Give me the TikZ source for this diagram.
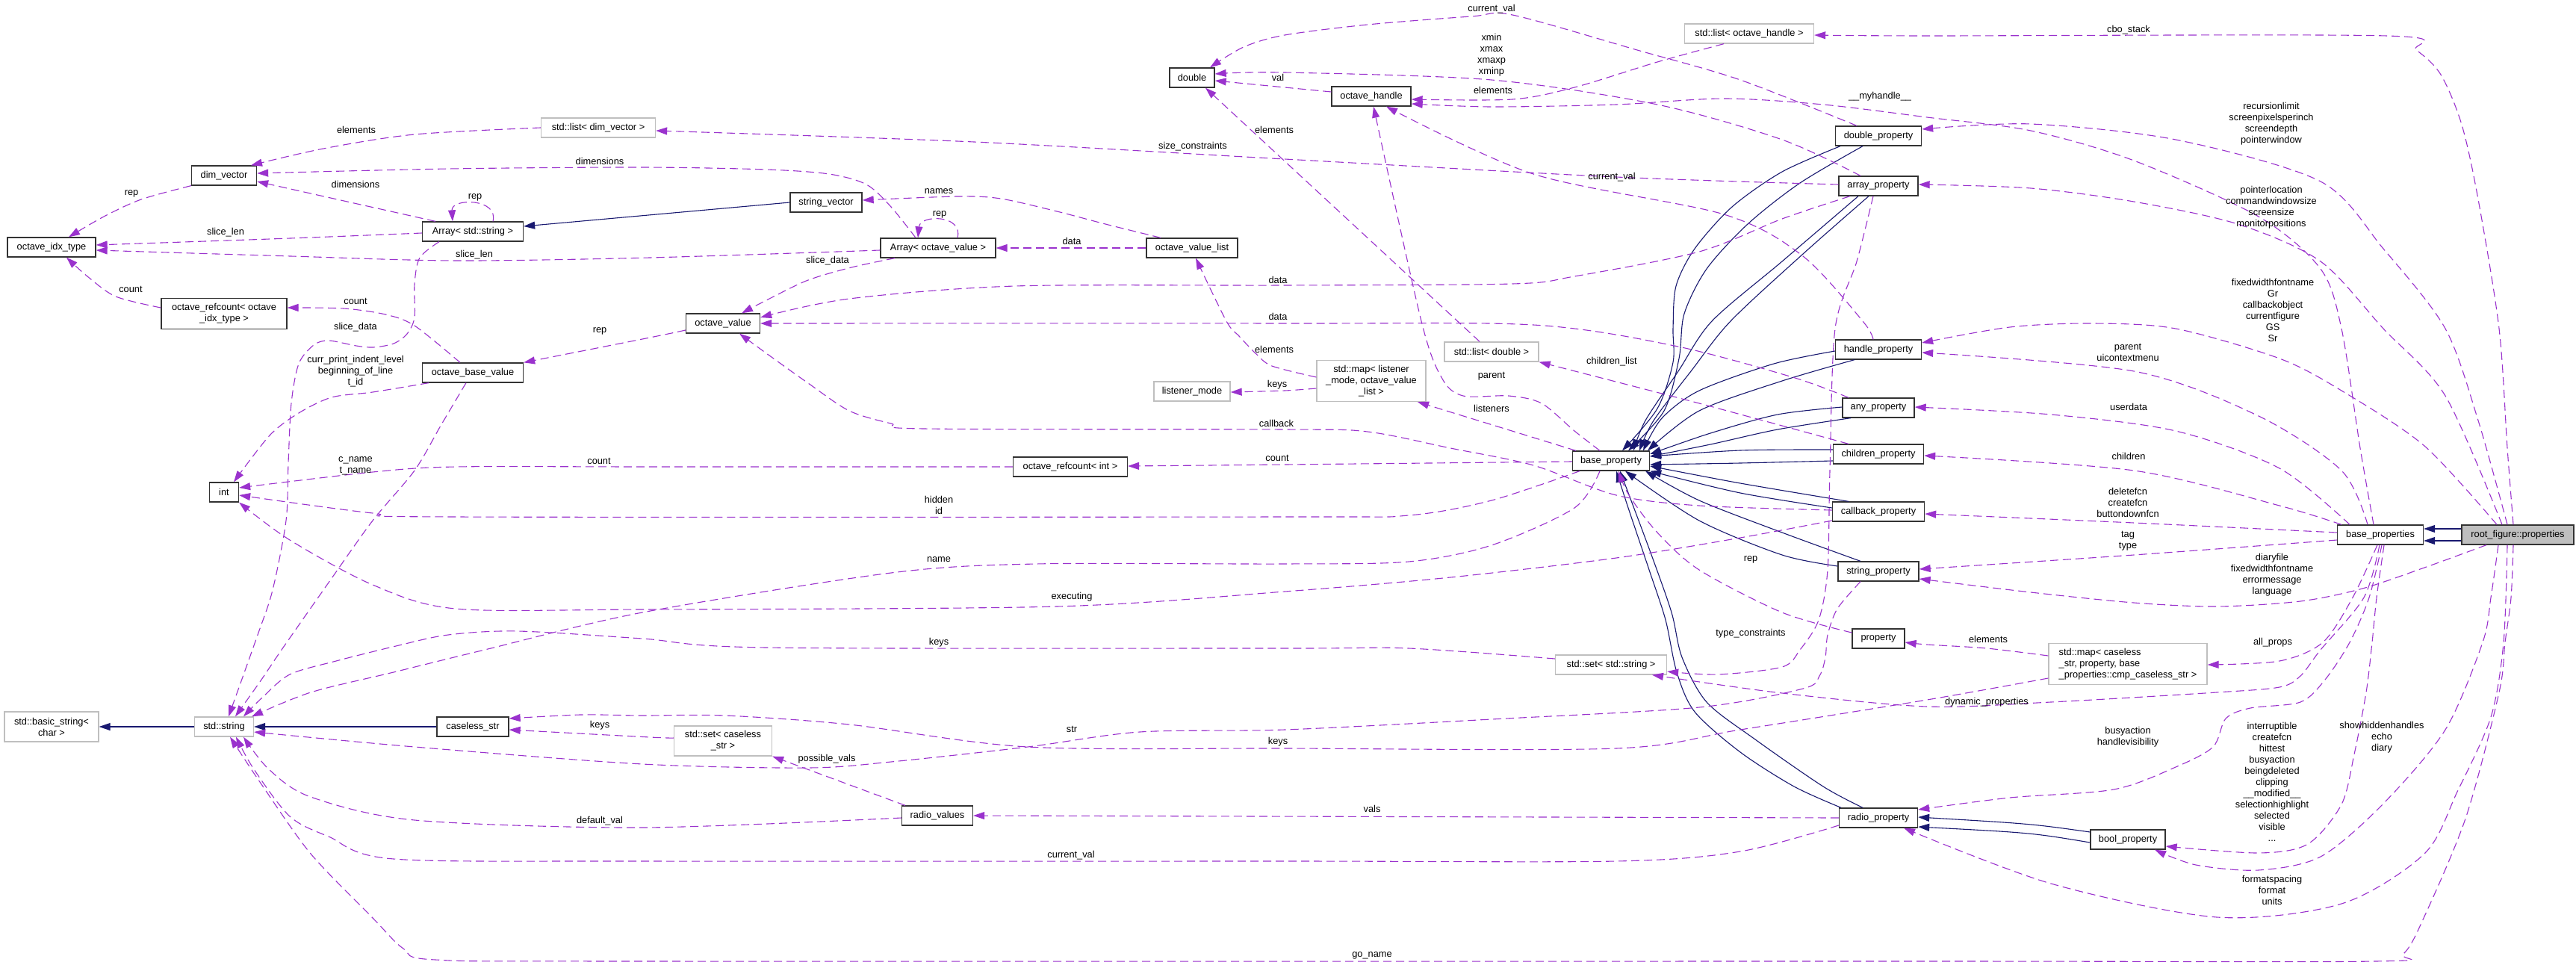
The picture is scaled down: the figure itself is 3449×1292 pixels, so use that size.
\documentclass[tikz,border=0pt]{standalone}
\usepackage{fontspec}
\setmainfont{Liberation Sans}
\usetikzlibrary{arrows.meta}
\definecolor{depcol}{HTML}{9A32CD}
\definecolor{inhcol}{HTML}{191970}
\definecolor{boxgray}{HTML}{BFBFBF}

\begin{document}
\begin{tikzpicture}[x=1pt, y=-1pt,
    every node/.style={font=\fontsize{12.8}{15}\selectfont},
    cls/.style={draw=black!80, line width=1.3pt, fill=white, inner sep=2pt, minimum height=26pt},
    ext/.style={cls, draw=boxgray},
    lbl/.style={align=center, inner sep=0pt},
    dep/.style={depcol, line width=1.1pt, dash pattern=on 11pt off 6pt, -{Triangle[length=15pt,width=10pt]}},
    inh/.style={inhcol, line width=1.1pt, -{Triangle[length=15pt,width=10pt]}}]
    \useasboundingbox (0,0) rectangle (3449,1292);
    % -------------------------
    % classes
    % -------------------------
    \node[ext, align=center, minimum width=126pt, minimum height=40pt] (basicstr) at (69,973) {std::basic\_string<\\char >};
    \node[ext, minimum width=79pt] (stdstring) at (300,973) {std::string};
    \node[cls, minimum width=96pt] (caseless) at (633,973) {caseless\_str};
    \node[ext, align=center, minimum width=131pt, minimum height=40pt] (setcaseless) at (968,992) {std::set< caseless\\\_str >};
    \node[cls, minimum width=95pt] (radiovals) at (1255,1092) {radio\_values};
    \node[ext, minimum width=149pt] (setstring) at (2157,890) {std::set< std::string >};
    \node[cls, minimum width=105pt] (radioprop) at (2515,1095) {radio\_property};
    \node[cls, minimum width=100pt] (boolprop) at (2849,1124) {bool\_property};
    \node[ext, align=left, minimum width=212pt, minimum height=55pt] (mapcaseless) at (2849,889) {std::map< caseless\\\_str, property, base\\\_properties::cmp\_caseless\_str >};
    \node[cls, minimum width=70pt] (property) at (2515,855) {property};
    \node[cls, minimum width=108pt] (stringprop) at (2515,765) {string\_property};
    \node[cls, minimum width=123pt] (callbackprop) at (2515,685) {callback\_property};
    \node[cls, minimum width=121pt] (childrenprop) at (2515,608) {children\_property};
    \node[cls, minimum width=96pt] (anyprop) at (2515,546) {any\_property};
    \node[cls, minimum width=115pt] (handleprop) at (2515,468) {handle\_property};
    \node[cls, minimum width=106pt] (arrayprop) at (2515,249) {array\_property};
    \node[cls, minimum width=115pt] (doubleprop) at (2515,182) {double\_property};
    \node[cls, minimum width=103pt] (baseprop) at (2157,617) {base\_property};
    \node[ext, minimum width=126pt] (listdouble) at (1997,471) {std::list< double >};
    \node[ext, align=center, minimum width=146pt, minimum height=55pt] (maplistener) at (1836,510) {std::map< listener\\\_mode, octave\_value\\\_list >};
    \node[ext, minimum width=102pt] (listenermode) at (1596,524) {listener\_mode};
    \node[cls, minimum width=153pt] (refcountint) at (1433,625) {octave\_refcount< int >};
    \node[cls, minimum width=39pt] (intbox) at (300,659) {int};
    \node[cls, minimum width=135pt] (octbase) at (633,499) {octave\_base\_value};
    \node[cls, minimum width=99pt] (octvalue) at (968,433) {octave\_value};
    \node[cls, align=center, minimum width=168pt, minimum height=41pt] (refcountidx) at (300,420) {octave\_refcount< octave\\\_idx\_type >};
    \node[cls, minimum width=118pt] (idxtype) at (69,331) {octave\_idx\_type};
    \node[cls, minimum width=87pt] (dimvector) at (300,235) {dim\_vector};
    \node[cls, minimum width=135pt] (arraystr) at (633,310) {Array< std::string >};
    \node[cls, minimum width=96pt] (stringvector) at (1106,271) {string\_vector};
    \node[cls, minimum width=154pt] (arrayoct) at (1256,332) {Array< octave\_value >};
    \node[cls, minimum width=122pt] (octvaluelist) at (1596,332) {octave\_value\_list};
    \node[ext, minimum width=153pt] (listdim) at (801,171) {std::list< dim\_vector >};
    \node[cls, minimum width=60pt] (dbl) at (1596,104) {double};
    \node[cls, minimum width=106pt] (octhandle) at (1836,129) {octave\_handle};
    \node[ext, minimum width=173pt] (listhandle) at (2342,45) {std::list< octave\_handle >};
    \node[cls, minimum width=115pt] (baseprops) at (3187,716) {base\_properties};
    \node[cls, fill=boxgray, minimum width=150pt] (root) at (3371,716) {root\_figure::properties};

    % -------------------------
    % inheritance
    % -------------------------
    \draw[inh] (stdstring) -- (basicstr);
    \draw[inh] (caseless) -- (stdstring);
    \draw[inh] (stringvector.west) -- (arraystr.east |- 0,303);
    \draw[inh] (root.west |- 0,708) -- (baseprops.east |- 0,708);
    \draw[inh] (root.west |- 0,724) -- (baseprops.east |- 0,724);
    \draw[inh] (boolprop.west |- 0,1114) .. controls (2720,1103) .. (radioprop.east |- 0,1094);
    \draw[inh] (boolprop.west |- 0,1128) .. controls (2720,1115) .. (radioprop.east |- 0,1107);
    \draw[inh] plot[smooth] coordinates {(doubleprop.south -| 2464,0) (2386,230) (2319,277) (2269,333) (2244,383) (2240,440) (2240,485) (2219,547) (baseprop.north -| 2172,0)};
    \draw[inh] plot[smooth] coordinates {(doubleprop.south -| 2494,0) (2410,245) (2340,300) (2285,360) (2255,420) (2248,480) (2228,550) (baseprop.north -| 2180,0)};
    \draw[inh] plot[smooth] coordinates {(arrayprop.south -| 2488,0) (2386,350) (2292,430) (2247,497) (2203,563) (baseprop.north -| 2187,0)};
    \draw[inh] plot[smooth] coordinates {(arrayprop.south -| 2502,0) (2414,340) (2317,430) (2264,497) (2214,563) (baseprop.north -| 2195,0)};
    \draw[inh] plot[smooth] coordinates {(handleprop.west |- 0,470) (2375,487) (2275,523) (2225,560) (baseprop.north -| 2200,0)};
    \draw[inh] plot[smooth] coordinates {(handleprop.south -| 2483,0) (2386,510) (2275,550) (baseprop.north -| 2206,0)};
    \draw[inh] plot[smooth] coordinates {(anyprop.west |- 0,545) (2380,555) (2290,580) (baseprop.east |- 0,608)};
    \draw[inh] plot[smooth] coordinates {(anyprop.south -| 2478,0) (2380,575) (2290,595) (baseprop.east |- 0,611)};
    \draw[inh] plot[smooth] coordinates {(childrenprop.west |- 0,602) (2330,603) (baseprop.east |- 0,611)};
    \draw[inh] plot[smooth] coordinates {(childrenprop.west |- 0,617) (2330,620) (baseprop.east |- 0,622)};
    \draw[inh] plot[smooth] coordinates {(callbackprop.north -| 2475,0) (2330,647) (baseprop.east |- 0,624)};
    \draw[inh] plot[smooth] coordinates {(callbackprop.west |- 0,680) (2330,660) (baseprop.south east)};
    \draw[inh] plot[smooth] coordinates {(stringprop.north -| 2491,0) (2386,713) (2275,670) (baseprop.south -| 2203,0)};
    \draw[inh] plot[smooth] coordinates {(stringprop.west |- 0,758) (2386,743) (2275,697) (baseprop.south -| 2176,0)};
    \draw[inh] plot[smooth] coordinates {(radioprop.north -| 2465,0) (2402,1053) (2330,1007) (2269,953) (2245,900) (2230,830) (2208,763) (2181,683) (baseprop.south -| 2164,0)};
    \draw[inh] plot[smooth] coordinates {(radioprop.north -| 2494,0) (2441,1053) (2350,990) (2285,940) (2252,880) (2238,820) (2210,740) (baseprop.south -| 2169,0)};

    % -------------------------
    % members (left part)
    % -------------------------
    \draw[dep] plot[smooth] coordinates {(listdim.west) (555,180) (433,199) (dimvector.north -| 336,0)};
    \draw[dep] plot[smooth] coordinates {(arrayoct.north -| 1226,0) (1193,277) (1160,247) (1110,233) (1026,227) (860,224) (600,226) (dimvector.east |- 0,232)};
    \draw[dep] (arraystr.north -| 583,0) -- (dimvector.east |- 0,243);
    \draw[dep] plot[smooth] coordinates {(dimvector.south west) (189,267) (139,290) (idxtype.north -| 92,0)};
    \draw[dep] (arraystr.north -| 660,0) .. controls (668,265) and (604,265) .. (arraystr.north -| 606,0);
    \draw[dep] plot[smooth] coordinates {(arraystr.west |- 0,312) (389,319) (idxtype.east |- 0,328)};
    \draw[dep] plot[smooth] coordinates {(arrayoct.west |- 0,335) (870,345) (610,349) (389,343) (idxtype.east |- 0,335)};
    \draw[dep] plot[smooth] coordinates {(refcountidx.west |- 0,412) (155,397) (117,370) (idxtype.south -| 89,0)};
    \draw[dep] plot[smooth] coordinates {(octbase.north -| 616,0) (555,436) (516,421) (460,413) (refcountidx.east |- 0,412)};
    \draw[dep] plot[smooth] coordinates {(arraystr.south -| 588,0) (562,345) (555,380) (555,425) (545,447) (527,460) (500,465) (477,463) (440,456) (420,462) (400,487) (390,540) (386,620) (383,697) (365,790) (345,850) (stdstring.north -| 306,0)};
    \draw[dep] plot[smooth] coordinates {(octbase.south -| 574,0) (499,525) (444,532) (400,553) (361,583) (intbox.north -| 313,0)};
    \draw[dep] plot[smooth] coordinates {(octbase.south -| 624,0) (590,570) (555,630) (499,697) (440,780) (377,870) (350,910) (stdstring.north -| 315,0)};
    \draw[dep] plot[smooth] coordinates {(octvalue.west |- 0,442) (870,452) (octbase.north east)};
    \draw[dep] plot[smooth] coordinates {(arrayoct.south -| 1198,0) (1140,358) (1082,375) (1030,400) (octvalue.north -| 993,0)};
    \draw[dep] (octvaluelist.west) -- (arrayoct.east);
    \draw[dep] plot[smooth] coordinates {(octvaluelist.north -| 1554,0) (1480,300) (1415,283) (1340,266) (1282,263) (stringvector.east |- 0,268)};
    \draw[dep] (arrayoct.north -| 1282,0) .. controls (1290,287) and (1232,287) .. (arrayoct.north -| 1229,0);
    \draw[dep] plot[smooth] coordinates {(setcaseless.west |- 0,988) (870,987) (caseless.east |- 0,977)};
    \draw[dep] (radiovals.north -| 1212,0) -- (setcaseless.south east);
    \draw[dep] plot[smooth] coordinates {(radiovals.west |- 0,1095) (860,1108) (555,1098) (416,1067) (360,1030) (stdstring.south -| 326,0)};

    % -------------------------
    % members (middle part)
    % -------------------------
    \draw[dep] plot[smooth] coordinates {(arrayprop.south -| 2477,0) (2386,293) (2275,337) (2108,370) (2025,380) (1720,382) (1359,383) (1137,400) (octvalue.east |- 0,425)};
    \draw[dep] plot[smooth] coordinates {(anyprop.north -| 2475,0) (2400,505) (2242,463) (2053,435) (1720,433) (octvalue.east |- 0,433)};
    \draw[dep] plot[smooth] coordinates {(callbackprop.west |- 0,683) (2275,677) (2164,663) (2053,623) (1942,600) (1831,578) (1720,575) (1237,574) (1193,567) (1137,550) (1082,513) (1026,473) (octvalue.south -| 990,0)};
    \draw[dep] plot[smooth] coordinates {(baseprop.west |- 0,618) (1720,622) (refcountint.east |- 0,624)};
    \draw[dep] plot[smooth] coordinates {(refcountint.west) (870,625) (610,625) (499,632) (intbox.east |- 0,653)};
    \draw[dep] plot[smooth] coordinates {(baseprop.south -| 2115,0) (1997,670) (1886,690) (1720,692) (610,692) (499,687) (intbox.east |- 0,663)};
    \draw[dep] plot[smooth] coordinates {(callbackprop.west |- 0,697) (2330,720) (2164,747) (1942,773) (1720,792) (1415,812) (860,816) (610,815) (499,783) (388,723) (intbox.south east)};
    \draw[dep] plot[smooth] coordinates {(baseprop.south -| 2142,0) (2108,680) (1997,730) (1886,752) (1720,755) (1387,755) (1193,767) (860,820) (649,870) (527,900) (416,927) (stdstring.north -| 337,0)};
    \draw[dep] plot[smooth] coordinates {(setstring.west |- 0,882) (1886,868) (1720,868) (1026,867) (860,855) (693,845) (600,850) (530,865) (450,885) (388,903) (350,935) (stdstring.north -| 326,0)};
    \draw[dep] plot[smooth] coordinates {(stringprop.south -| 2491,0) (2460,815) (2447,850) (2444,880) (2436,905) (2414,922) (2275,947) (1997,963) (1720,977) (1526,980) (1376,1000) (1193,1020) (1082,1028) (860,1023) (555,1000) (stdstring.east |- 0,980)};
    \draw[dep] plot[smooth] coordinates {(arrayprop.south -| 2508,0) (2486,350) (2457,440) (2450,630) (2447,763) (2435,830) (2410,870) (2386,893) (2300,903) (setstring.east |- 0,899)};
    \draw[dep] plot[smooth] coordinates {(mapcaseless.west |- 0,908) (2580,937) (2330,977) (2164,1002) (1720,1002) (1376,1000) (1137,970) (971,958) (860,958) (777,957) (caseless.east |- 0,962)};
    \draw[dep] plot[smooth] coordinates {(mapcaseless.west |- 0,878) (2660,868) (2580,863) (property.east |- 0,860)};
    \draw[dep] plot[smooth] coordinates {(radioprop.west |- 0,1105) (2330,1140) (2164,1153) (1720,1153) (870,1153) (527,1150) (440,1120) (388,1093) (340,1030) (stdstring.south -| 316,0)};
    \draw[dep] (radioprop.west |- 0,1095) -- (radiovals.east |- 0,1092);
    \draw[dep] plot[smooth] coordinates {(property.west |- 0,847) (2386,820) (2275,763) (2219,713) (2181,663) (baseprop.south -| 2167,0)};
    \draw[dep] plot[smooth] coordinates {(maplistener.west |- 0,505) (1703,490) (1681,473) (1659,450) (1642,430) (octvaluelist.south -| 1601,0)};
    \draw[dep] plot[smooth] coordinates {(maplistener.west |- 0,520) (1720,523) (listenermode.east |- 0,525)};
    \draw[dep] (baseprop.north -| 2110,0) -- (maplistener.south -| 1898,0);
    \draw[dep] plot[smooth] coordinates {(baseprop.north -| 2142,0) (2108,577) (2064,540) (2020,530) (1959,530) (1931,507) (1903,430) (octhandle.south -| 1839,0)};
    \draw[dep] plot[smooth] coordinates {(childrenprop.north -| 2475,0) (2275,540) (listdouble.south east)};
    \draw[dep] plot[smooth] coordinates {(handleprop.north -| 2508,0) (2494,430) (2414,343) (2308,287) (2053,233) (octhandle.south -| 1856,0)};
    \draw[dep] plot[smooth] coordinates {(arrayprop.west |- 0,247) (2164,237) (1720,213) (1304,190) (listdim.east |- 0,175)};
    \draw[dep] (listdouble.north -| 1981,0) -- (dbl.south -| 1614,0);
    \draw[dep] plot[smooth] coordinates {(octhandle.west |- 0,123) (1720,117) (dbl.east |- 0,108)};
    \draw[dep] plot[smooth] coordinates {(arrayprop.north -| 2491,0) (2386,187) (2219,140) (1997,107) (1720,97) (dbl.east |- 0,99)};
    \draw[dep] plot[smooth] coordinates {(doubleprop.north -| 2486,0) (2330,107) (2192,67) (2025,20) (1970,22) (1831,33) (1720,47) (1665,63) (dbl.north -| 1620,0)};
    \draw[dep] plot[smooth] coordinates {(listhandle.south -| 2308,0) (2219,83) (2108,117) (2025,133) (octhandle.east |- 0,133)};

    % -------------------------
    % members (right part)
    % -------------------------
    \draw[dep] plot[smooth] coordinates {(baseprops.north -| 3178,0) (3160,600) (3135,440) (3107,360) (3024,290) (2857,215) (2719,175) (2580,157) (2441,140) (2308,132) (2164,140) (1997,143) (octhandle.east |- 0,139)};
    \draw[dep] plot[smooth] coordinates {(root.north -| 3365,0) (3357,600) (3346,440) (3318,267) (3296,167) (3268,100) (3235,67) (3196,48) (2580,48) (listhandle.east |- 0,47)};
    \draw[dep] plot[smooth] coordinates {(root.north -| 3357,0) (3318,563) (3274,440) (3191,333) (3107,243) (2913,187) (2719,166) (doubleprop.east |- 0,173)};
    \draw[dep] plot[smooth] coordinates {(root.north -| 3350,0) (3274,530) (3191,440) (3107,350) (2996,300) (2857,270) (2719,252) (arrayprop.east |- 0,247)};
    \draw[dep] plot[smooth] coordinates {(root.north -| 3343,0) (3246,597) (3135,523) (3052,480) (2913,440) (2802,433) (2691,438) (handleprop.east |- 0,459)};
    \draw[dep] plot[smooth] coordinates {(baseprops.north -| 3170,0) (3135,630) (3024,557) (2857,497) (handleprop.east |- 0,472)};
    \draw[dep] plot[smooth] coordinates {(baseprops.north -| 3146,0) (3052,627) (2913,577) (2746,555) (anyprop.east |- 0,545)};
    \draw[dep] plot[smooth] coordinates {(baseprops.north -| 3135,0) (3052,677) (2857,630) (childrenprop.east |- 0,610)};
    \draw[dep] plot[smooth] coordinates {(baseprops.west |- 0,713) (2857,700) (callbackprop.east |- 0,688)};
    \draw[dep] plot[smooth] coordinates {(baseprops.west |- 0,723) (2857,743) (stringprop.east |- 0,762)};
    \draw[dep] plot[smooth] coordinates {(root.south -| 3329,0) (3246,760) (3163,788) (3080,805) (2968,812) (2857,807) (2719,793) (stringprop.east |- 0,775)};
    \draw[dep] plot[smooth] coordinates {(baseprops.south -| 3183,0) (3150,800) (3110,860) (3052,885) (mapcaseless.east |- 0,890)};
    \draw[dep] plot[smooth] coordinates {(baseprops.south -| 3186,0) (3165,800) (3107,870) (3080,905) (3052,920) (2968,927) (2746,940) (2580,946) (2386,928) (setstring.south -| 2212,0)};
    \draw[dep] plot[smooth] coordinates {(baseprops.south -| 3189,0) (3172,800) (3146,860) (3113,910) (3080,940) (3013,948) (2980,962) (2963,1000) (2913,1027) (2830,1057) (2691,1068) (radioprop.east |- 0,1084)};
    \draw[dep] plot[smooth] coordinates {(baseprops.south -| 3192,0) (3182,800) (3176,860) (3168,927) (3152,1010) (3135,1077) (3090,1130) (3024,1142) (boolprop.east |- 0,1133)};
    \draw[dep] plot[smooth] coordinates {(root.south -| 3345,0) (3335,800) (3324,860) (3274,977) (3190,1077) (3107,1147) (3024,1165) (2940,1158) (boolprop.south -| 2885,0)};
    \draw[dep] plot[smooth] coordinates {(root.south -| 3357,0) (3352,860) (3335,960) (3290,1060) (3246,1143) (3135,1210) (2968,1228) (2746,1183) (radioprop.south -| 2549,0)};
    \draw[dep] plot[smooth] coordinates {(root.south -| 3365,0) (3362,800) (3354,860) (3346,927) (3302,1093) (3246,1227) (3218,1277) (3180,1287) (2580,1287) (870,1287) (583,1285) (540,1270) (500,1230) (416,1143) (350,1050) (stdstring.south -| 308,0)};

    % -------------------------
    % edge labels
    % -------------------------
    \node[lbl] (l1) at (477,174) {elements};
    \node[lbl] (l2) at (803,216) {dimensions};
    \node[lbl] (l3) at (476,247) {dimensions};
    \node[lbl] (l4) at (176,259) {rep};
    \node[lbl] (l5) at (636,264) {rep};
    \node[lbl] (l6) at (302,311) {slice\_len};
    \node[lbl] (l7) at (635,341) {slice\_len};
    \node[lbl] (l8) at (175,387) {count};
    \node[lbl] (l9) at (476,403) {count};
    \node[lbl] (l10) at (476,438) {slice\_data};
    \node[lbl] (l11) at (476,497) {curr\_print\_indent\_level\\beginning\_of\_line\\t\_id};
    \node[lbl] (l12) at (476,624) {c\_name\\t\_name};
    \node[lbl] (l13) at (802,617) {count};
    \node[lbl] (l14) at (803,443) {rep};
    \node[lbl] (l15) at (1108,349) {slice\_data};
    \node[lbl] (l16) at (1435,323) {data};
    \node[lbl] (l17) at (1257,256) {names};
    \node[lbl] (l18) at (1258,287) {rep};
    \node[lbl] (l19) at (1597,196) {size\_constraints};
    \node[lbl] (l20) at (1711,104) {val};
    \node[lbl] (l21) at (1706,174) {elements};
    \node[lbl] (l22) at (1711,375) {data};
    \node[lbl] (l23) at (1711,424) {data};
    \node[lbl] (l24) at (1706,468) {elements};
    \node[lbl] (l25) at (1710,515) {keys};
    \node[lbl] (l26) at (1709,567) {callback};
    \node[lbl] (l27) at (1710,613) {count};
    \node[lbl] (l28) at (1257,676) {hidden\\id};
    \node[lbl] (l29) at (1257,749) {name};
    \node[lbl] (l30) at (1435,799) {executing};
    \node[lbl] (l31) at (1257,860) {keys};
    \node[lbl] (l32) at (803,971) {keys};
    \node[lbl] (l33) at (1435,976) {str};
    \node[lbl] (l34) at (1711,993) {keys};
    \node[lbl] (l35) at (1107,1016) {possible\_vals};
    \node[lbl] (l36) at (803,1099) {default\_val};
    \node[lbl] (l37) at (1837,1083) {vals};
    \node[lbl] (l38) at (1434,1145) {current\_val};
    \node[lbl] (l39) at (1837,1279) {go\_name};
    \node[lbl] (l40) at (1997,12) {current\_val};
    \node[lbl] (l41) at (1997,74) {xmin\\xmax\\xmaxp\\xminp};
    \node[lbl] (l42) at (1999,121) {elements};
    \node[lbl] (l43) at (2158,237) {current\_val};
    \node[lbl] (l44) at (2517,129) {\_\_myhandle\_\_};
    \node[lbl] (l45) at (2850,40) {cbo\_stack};
    \node[lbl] (l46) at (3041,166) {recursionlimit\\screenpixelsperinch\\screendepth\\pointerwindow};
    \node[lbl] (l47) at (3041,278) {pointerlocation\\commandwindowsize\\screensize\\monitorpositions};
    \node[lbl] (l48) at (3043,415) {fixedwidthfontname\\Gr\\callbackobject\\currentfigure\\GS\\Sr};
    \node[lbl] (l49) at (2849,472) {parent\\uicontextmenu};
    \node[lbl] (l50) at (2850,545) {userdata};
    \node[lbl] (l51) at (2850,611) {children};
    \node[lbl] (l52) at (2849,673) {deletefcn\\createfcn\\buttondownfcn};
    \node[lbl] (l53) at (2849,724) {tag\\type};
    \node[lbl] (l54) at (3042,770) {diaryfile\\fixedwidthfontname\\errormessage\\language};
    \node[lbl] (l55) at (2662,856) {elements};
    \node[lbl] (l56) at (3043,860) {all\_props};
    \node[lbl] (l57) at (2660,940) {dynamic\_properties};
    \node[lbl] (l58) at (2849,987) {busyaction\\handlevisibility};
    \node[lbl] (l59) at (3042,1047) {interruptible\\createfcn\\hittest\\busyaction\\beingdeleted\\clipping\\\_\_modified\_\_\\selectionhighlight\\selected\\visible\\...};
    \node[lbl] (l60) at (3189,987) {showhiddenhandles\\echo\\diary};
    \node[lbl] (l61) at (3042,1192) {formatspacing\\format\\units};
    \node[lbl] (l62) at (2158,484) {children\_list};
    \node[lbl] (l63) at (1997,504) {parent};
    \node[lbl] (l64) at (1997,547) {listeners};
    \node[lbl] (l65) at (2344,749) {rep};
    \node[lbl] (l66) at (2344,848) {type\_constraints};
\end{tikzpicture}
\end{document}
